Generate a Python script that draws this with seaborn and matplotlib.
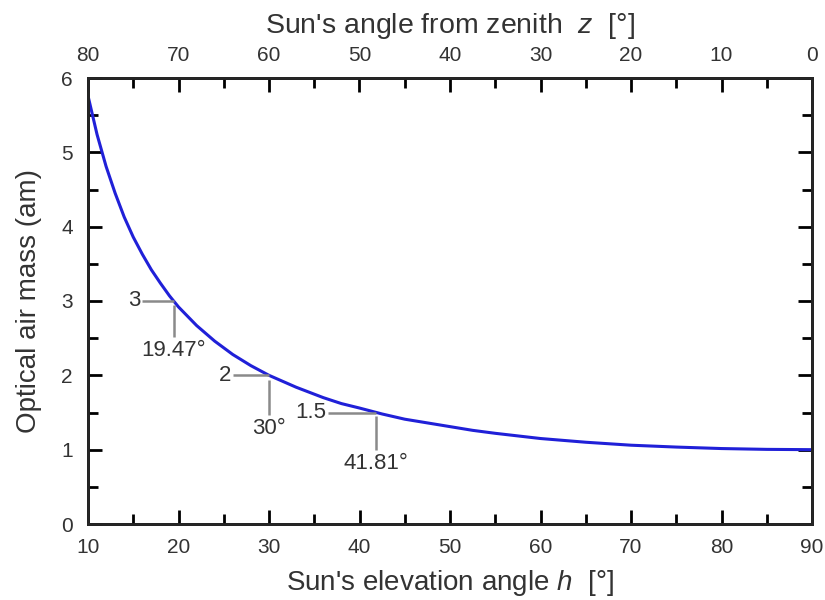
import matplotlib
matplotlib.use("Agg")
import matplotlib.pyplot as plt
import seaborn as sns
import pandas as pd

# Data
elevation_deg = [10, 11, 12, 13, 14, 15, 16, 17, 18, 19, 20, 22, 24, 26, 28, 30,
                 33, 36, 38, 40, 42.5, 45, 47.5, 50, 52.5, 55, 60, 65, 70, 75,
                 80, 85, 90]
air_mass = [5.76, 5.24, 4.81, 4.45, 4.13, 3.86, 3.63, 3.42, 3.24, 3.07, 2.92,
            2.67, 2.46, 2.28, 2.13, 2.00, 1.84, 1.70, 1.62, 1.56, 1.48, 1.41,
            1.36, 1.31, 1.26, 1.22, 1.15, 1.10, 1.06, 1.035, 1.015, 1.004, 1.00]

marked_h = [19.47, 30, 41.81]
marked_am = [3, 2, 1.5]
marked_am_labels = ["3", "2", "1.5"]
marked_h_labels = ["19.47°", "30°", "41.81°"]

x_ticks = [10, 20, 30, 40, 50, 60, 70, 80, 90]
y_ticks = [0, 1, 2, 3, 4, 5, 6]
z_ticks = [80, 70, 60, 50, 40, 30, 20, 10, 0]

sns.set_theme(style="ticks")
plt.rcParams["font.family"] = ["Liberation Sans", "DejaVu Sans"]
plt.rcParams["mathtext.fontset"] = "custom"
plt.rcParams["mathtext.it"] = "Liberation Sans:italic"
plt.rcParams["mathtext.rm"] = "Liberation Sans"

fig = plt.figure(figsize=(8.25, 6), dpi=100)
ax = fig.add_axes([88 / 825, 76 / 600, (812 - 88) / 825, (524 - 78) / 600])

df = pd.DataFrame({"h": elevation_deg, "am": air_mass})
sns.lineplot(data=df, x="h", y="am", ax=ax, color="#2020d8", linewidth=2.2)

gray = "#8a8a8a"
txt = "#333333"
# annotation leader lines
dx_left = [3.5, 4.0, 5.3]
dy_down = [0.42, 0.47, 0.46]
gap = [0.06, 0.06, 0.05]
for h, am, lab_am, lab_h, dxl, dyd, g in zip(marked_h, marked_am, marked_am_labels,
                                             marked_h_labels, dx_left, dy_down, gap):
    ax.plot([h - dxl, h], [am, am], color=gray, lw=1.8, solid_capstyle="butt")
    ax.plot([h, h], [am - g, am - g - dyd], color=gray, lw=1.8, solid_capstyle="butt")
    ax.text(h - dxl - 0.15, am, lab_am, ha="right", va="center", fontsize=16, color=txt)
    ax.text(h, am - g - dyd - 0.04, lab_h, ha="center", va="top", fontsize=16, color=txt)

ax.set_xlim(10, 90)
ax.set_ylim(0, 6)
ax.set_xticks(x_ticks)
ax.set_yticks(y_ticks)
ax.set_xticks([15, 25, 35, 45, 55, 65, 75, 85], minor=True)
ax.set_yticks([0.5, 1.5, 2.5, 3.5, 4.5, 5.5], minor=True)
ax.tick_params(which="both", direction="in", top=False, right=True, width=2,
               color="black", labelsize=15, labelcolor=txt)
ax.tick_params(which="major", length=10)
ax.tick_params(which="minor", length=7)
ax.tick_params(axis="x", which="major", pad=10)
ax.tick_params(axis="y", which="major", pad=11)
ax.tick_params(axis="y", which="both", labelright=False)
for s in ax.spines.values():
    s.set_linewidth(2)
    s.set_color("black")
    s.set_visible(True)

ax.set_xlabel("Sun's elevation angle $h$  [°]", fontsize=20, color=txt, labelpad=8)
ax.set_ylabel("Optical air mass (am)", fontsize=20, color=txt, labelpad=14)

top = ax.twiny()
top.set_xlim(80, 0)
top.set_xticks(z_ticks)
top.set_xticks([75, 65, 55, 45, 35, 25, 15, 5], minor=True)
top.tick_params(which="both", direction="in", width=2, color="black",
                labelsize=15, labelcolor=txt)
top.tick_params(which="major", length=10, pad=9)
top.tick_params(which="minor", length=7)
top.set_xlabel("Sun's angle from zenith  $z$  [°]", fontsize=20.5, color=txt, labelpad=10)
for s in top.spines.values():
    s.set_linewidth(2)

fig.savefig("out.png", dpi=100)
